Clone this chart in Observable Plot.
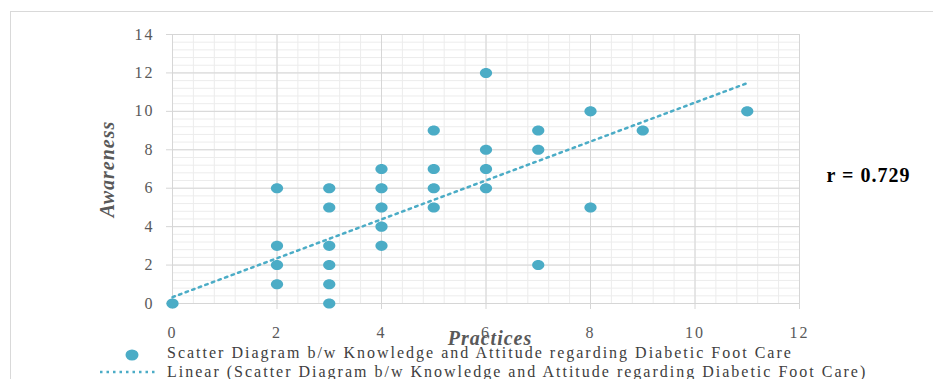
<!DOCTYPE html>
<html>
<head>
<meta charset="utf-8">
<script src="https://cdn.jsdelivr.net/npm/d3@7"></script>
<script src="https://cdn.jsdelivr.net/npm/@observablehq/plot@0.6"></script>
<style>
  body { margin: 0; background: #fff; }
  #wrap { position: relative; width: 933px; height: 379px; overflow: hidden; }
  #border { position: absolute; left: 10px; top: 11px; width: 1200px; height: 600px; border: 1.5px solid #d9d9d9; box-sizing: border-box; }
  #chart { position: absolute; left: 0; top: 0; }
  #chart svg text { font-family: "Liberation Serif", serif !important; }
  #chart svg [aria-label="x-axis tick label"] text, #chart svg [aria-label="y-axis tick label"] text { letter-spacing: 2px; font-size: 16px; }
  #chart svg [aria-label="text"] text { letter-spacing: 1px; }
  .leg { position: absolute; font-family: "Liberation Serif", serif; font-size: 16px; color: #404040; white-space: nowrap; letter-spacing: 2px; }
</style>
</head>
<body>
<div id="wrap">
  <div id="border"></div>
  <div id="chart"></div>
  <svg class="leg" style="left:124px; top:349px;" width="16" height="12"><ellipse cx="8" cy="6" rx="6.5" ry="5.5" fill="#4bacc6"/></svg>
  <div class="leg" style="left:167px; top:344px;">Scatter Diagram b/w Knowledge and Attitude regarding Diabetic Foot Care</div>
  <svg class="leg" style="left:98px; top:369px;" width="60" height="6"><line x1="2" y1="3" x2="58" y2="3" stroke="#4bacc6" stroke-width="2.5" stroke-dasharray="2.5,4"/></svg>
  <div class="leg" style="left:167px; top:363px;">Linear (Scatter Diagram b/w Knowledge and Attitude regarding Diabetic Foot Care)</div>
</div>
<script>
const practices = [0, 2, 2, 2, 2, 3, 3, 3, 3, 3, 3, 4, 4, 4, 4, 4, 5, 5, 5, 5, 6, 6, 6, 6, 7, 7, 7, 8, 8, 9, 11];
const awareness = [0, 6, 3, 2, 1, 6, 5, 3, 2, 1, 0, 7, 6, 5, 4, 3, 9, 7, 6, 5, 12, 8, 7, 6, 9, 8, 2, 10, 5, 9, 10];
const trendX = [0, 11];
const trendY = [0.33, 11.47];
const xTicks = [0, 2, 4, 6, 8, 10, 12];
const yTicks = [0, 2, 4, 6, 8, 10, 12, 14];
const minorX = d3.range(0, 12.001, 0.4);
const minorY = d3.range(0, 14.001, 0.4);
const xLabel = "Practices";
const yLabel = "Awareness";
const rLabel = "r = 0.729";

const points = practices.map((p, i) => ({x: p, y: awareness[i]}));
const trend = trendX.map((t, i) => ({x: t, y: trendY[i]}));

const ellipse = {
  draw(ctx, size) {
    const r = Math.sqrt(size / Math.PI);
    const rx = r * 1.15, ry = r * 0.95, k = 0.5523;
    ctx.moveTo(rx, 0);
    ctx.bezierCurveTo(rx, ry * k, rx * k, ry, 0, ry);
    ctx.bezierCurveTo(-rx * k, ry, -rx, ry * k, -rx, 0);
    ctx.bezierCurveTo(-rx, -ry * k, -rx * k, -ry, 0, -ry);
    ctx.bezierCurveTo(rx * k, -ry, rx, -ry * k, rx, 0);
    ctx.closePath();
  }
};

const font = "Liberation Serif, serif";
const chart = Plot.plot({
  width: 933,
  height: 379,
  marginLeft: 172,
  marginRight: 134,
  marginTop: 34,
  marginBottom: 76,
  style: {fontFamily: font, background: "transparent", overflow: "visible"},
  x: {domain: [0, 12]},
  y: {domain: [0, 14]},
  marks: [
    Plot.gridX(minorX, {stroke: "#ececec", strokeOpacity: 1, strokeWidth: 1}),
    Plot.gridY(minorY, {stroke: "#ececec", strokeOpacity: 1, strokeWidth: 1}),
    Plot.gridX(xTicks, {stroke: "#d6d6d6", strokeOpacity: 1, strokeWidth: 1}),
    Plot.gridY(yTicks, {stroke: "#d6d6d6", strokeOpacity: 1, strokeWidth: 1}),
    Plot.axisX(xTicks, {tickSize: 6, tickPadding: 17, stroke: "#d6d6d6", fill: "#595959", fontSize: 16, label: null, tickFormat: d => d}),
    Plot.axisY(yTicks, {tickSize: 6, tickPadding: 12, stroke: "#d6d6d6", fill: "#595959", fontSize: 16, label: null, tickFormat: d => d}),
    Plot.line(trend, {x: "x", y: "y", stroke: "#4bacc6", strokeWidth: 2.5, strokeDasharray: "2.5,4.5"}),
    Plot.dot(points, {x: "x", y: "y", r: 5.3, symbol: ellipse, fill: "#4bacc6", stroke: "none"}),
    Plot.text([xLabel], {frameAnchor: "bottom", textAnchor: "middle", dx: 4, dy: 41, fontSize: 20, fontWeight: "bold", fontStyle: "italic", fill: "#595959", text: d => d}),
    Plot.text([yLabel], {frameAnchor: "left", textAnchor: "middle", dx: -65, dy: 0, rotate: -90, fontSize: 20, fontWeight: "bold", fontStyle: "italic", fill: "#595959", text: d => d}),
    Plot.text([rLabel], {frameAnchor: "right", textAnchor: "start", dx: 27, dy: 7, fontSize: 20, fontWeight: "bold", fill: "#000", text: d => d})
  ]
});
document.getElementById("chart").append(chart);
</script>
</body>
</html>
